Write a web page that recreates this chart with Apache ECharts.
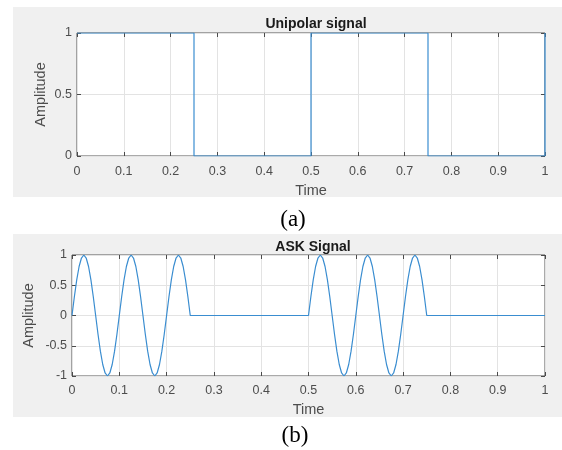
<!DOCTYPE html>
<html>
<head>
<meta charset="utf-8">
<script src="https://cdn.jsdelivr.net/npm/echarts@6/dist/echarts.min.js"></script>
<style>
html,body{margin:0;padding:0;background:#fff;}
#chart{width:562px;height:450px;}
</style>
</head>
<body>
<div id="chart"></div>
<script>
// ---- data ----
var xTicks = [0, 0.1, 0.2, 0.3, 0.4, 0.5, 0.6, 0.7, 0.8, 0.9, 1];
var uniTicks = [0, 0.5, 1];
var askTicks = [-1, -0.5, 0, 0.5, 1];

var bits = [1, 0, 1, 0];
var uniTime = [0, 0.25, 0.25, 0.5, 0.5, 0.75, 0.75, 1, 1];
var uniAmp  = [1, 1, 0, 0, 1, 1, 0, 0, 1];

var askTime = [
  0, 0.005, 0.01, 0.015, 0.02, 0.025, 0.03, 0.035, 0.04, 0.045,
  0.05, 0.055, 0.06, 0.065, 0.07, 0.075, 0.08, 0.085, 0.09, 0.095,
  0.1, 0.105, 0.11, 0.115, 0.12, 0.125, 0.13, 0.135, 0.14, 0.145,
  0.15, 0.155, 0.16, 0.165, 0.17, 0.175, 0.18, 0.185, 0.19, 0.195,
  0.2, 0.205, 0.21, 0.215, 0.22, 0.225, 0.23, 0.235, 0.24, 0.245,
  0.25,
  0.5, 0.505, 0.51, 0.515, 0.52, 0.525, 0.53, 0.535, 0.54, 0.545,
  0.55, 0.555, 0.56, 0.565, 0.57, 0.575, 0.58, 0.585, 0.59, 0.595,
  0.6, 0.605, 0.61, 0.615, 0.62, 0.625, 0.63, 0.635, 0.64, 0.645,
  0.65, 0.655, 0.66, 0.665, 0.67, 0.675, 0.68, 0.685, 0.69, 0.695,
  0.7, 0.705, 0.71, 0.715, 0.72, 0.725, 0.73, 0.735, 0.74, 0.745,
  0.75,
  1
];
var askAmp = [
  0, 0.31, 0.59, 0.81, 0.95, 1, 0.95, 0.81, 0.59, 0.31,
  0, -0.31, -0.59, -0.81, -0.95, -1, -0.95, -0.81, -0.59, -0.31,
  0, 0.31, 0.59, 0.81, 0.95, 1, 0.95, 0.81, 0.59, 0.31,
  0, -0.31, -0.59, -0.81, -0.95, -1, -0.95, -0.81, -0.59, -0.31,
  0, 0.31, 0.59, 0.81, 0.95, 1, 0.95, 0.81, 0.59, 0.31,
  0,
  0, 0.31, 0.59, 0.81, 0.95, 1, 0.95, 0.81, 0.59, 0.31,
  0, -0.31, -0.59, -0.81, -0.95, -1, -0.95, -0.81, -0.59, -0.31,
  0, 0.31, 0.59, 0.81, 0.95, 1, 0.95, 0.81, 0.59, 0.31,
  0, -0.31, -0.59, -0.81, -0.95, -1, -0.95, -0.81, -0.59, -0.31,
  0, 0.31, 0.59, 0.81, 0.95, 1, 0.95, 0.81, 0.59, 0.31,
  0,
  0
];

function zip(a, b) { return a.map(function (v, i) { return [v, b[i]]; }); }

// ---- styles ----
var FONT = 'Liberation Sans, Arial, sans-serif';
var LBL = '#4d4d4d';
var AX = '#4a4a4a';
var GRIDC = '#e3e3e3';
var LINE = '#3a8dd0';

function xAx(gi, main) {
  return {
    type: 'value', gridIndex: gi, min: 0, max: 1, interval: 0.1,
    position: main ? 'bottom' : 'top',
    name: main ? 'Time' : '', nameLocation: 'middle', nameGap: gi === 0 ? 27 : 26,
    nameMoveOverlap: false,
    nameTextStyle: { fontFamily: FONT, fontSize: 14.5, color: LBL },
    axisLine: { show: false, onZero: false },
    axisTick: { show: true, inside: true, length: 4, lineStyle: { color: AX } },
    axisLabel: { show: main, fontFamily: FONT, fontSize: 12.5, color: LBL, margin: gi === 0 ? 9 : 8 },
    splitLine: { show: main, lineStyle: { color: GRIDC, width: 1 } }
  };
}
function yAx(gi, main, mn, mx) {
  return {
    type: 'value', gridIndex: gi, min: mn, max: mx, interval: 0.5,
    position: main ? 'left' : 'right',
    name: main ? 'Amplitude' : '', nameLocation: 'middle', nameGap: gi === 0 ? 29 : 36,
    nameMoveOverlap: false,
    nameTextStyle: { fontFamily: FONT, fontSize: 14.5, color: LBL },
    axisLine: { show: false, onZero: false },
    axisTick: { show: true, inside: true, length: 4, lineStyle: { color: AX } },
    axisLabel: { show: main, fontFamily: FONT, fontSize: 12.5, color: LBL, margin: 5 },
    splitLine: { show: main, lineStyle: { color: GRIDC, width: 1 } }
  };
}

var chart = echarts.init(document.getElementById('chart'), null, { renderer: 'canvas' });
chart.setOption({
  animation: false,
  backgroundColor: '#ffffff',
  graphic: [
    { type: 'rect', z: -10, shape: { x: 13, y: 7, width: 549, height: 190 }, style: { fill: '#f0f0f0' } },
    { type: 'rect', z: -10, shape: { x: 13, y: 234, width: 549, height: 183 }, style: { fill: '#f0f0f0' } }
  ],
  title: [
    { text: 'Unipolar signal', left: 311, top: 12, textAlign: 'center',
      textStyle: { fontFamily: FONT, fontSize: 14, fontWeight: 'bold', color: '#1a1a1a' } },
    { text: 'ASK Signal', left: 308, top: 235, textAlign: 'center',
      textStyle: { fontFamily: FONT, fontSize: 14, fontWeight: 'bold', color: '#1a1a1a' } },
    { text: '(a)', left: 288, top: 203, textAlign: 'center',
      textStyle: { fontFamily: 'Liberation Serif, Times New Roman, serif', fontSize: 23, fontWeight: 'normal', color: '#000' } },
    { text: '(b)', left: 290, top: 419, textAlign: 'center',
      textStyle: { fontFamily: 'Liberation Serif, Times New Roman, serif', fontSize: 23, fontWeight: 'normal', color: '#000' } }
  ],
  grid: [
    { left: 77, top: 33, width: 468, height: 123, show: true, backgroundColor: '#ffffff', borderColor: '#555555', borderWidth: 1 },
    { left: 72, top: 255, width: 473, height: 121, show: true, backgroundColor: '#ffffff', borderColor: '#555555', borderWidth: 1 }
  ],
  xAxis: [xAx(0, true), xAx(0, false), xAx(1, true), xAx(1, false)],
  yAxis: [yAx(0, true, 0, 1), yAx(0, false, 0, 1), yAx(1, true, -1, 1), yAx(1, false, -1, 1)],
  series: [
    { type: 'line', xAxisIndex: 0, yAxisIndex: 0, data: zip(uniTime, uniAmp), symbol: 'none',
      lineStyle: { color: LINE, width: 1.2 }, z: 5 },
    { type: 'line', xAxisIndex: 2, yAxisIndex: 2, data: zip(askTime, askAmp), symbol: 'none',
      lineStyle: { color: LINE, width: 1.2 }, z: 5 }
  ]
});
</script>
</body>
</html>
